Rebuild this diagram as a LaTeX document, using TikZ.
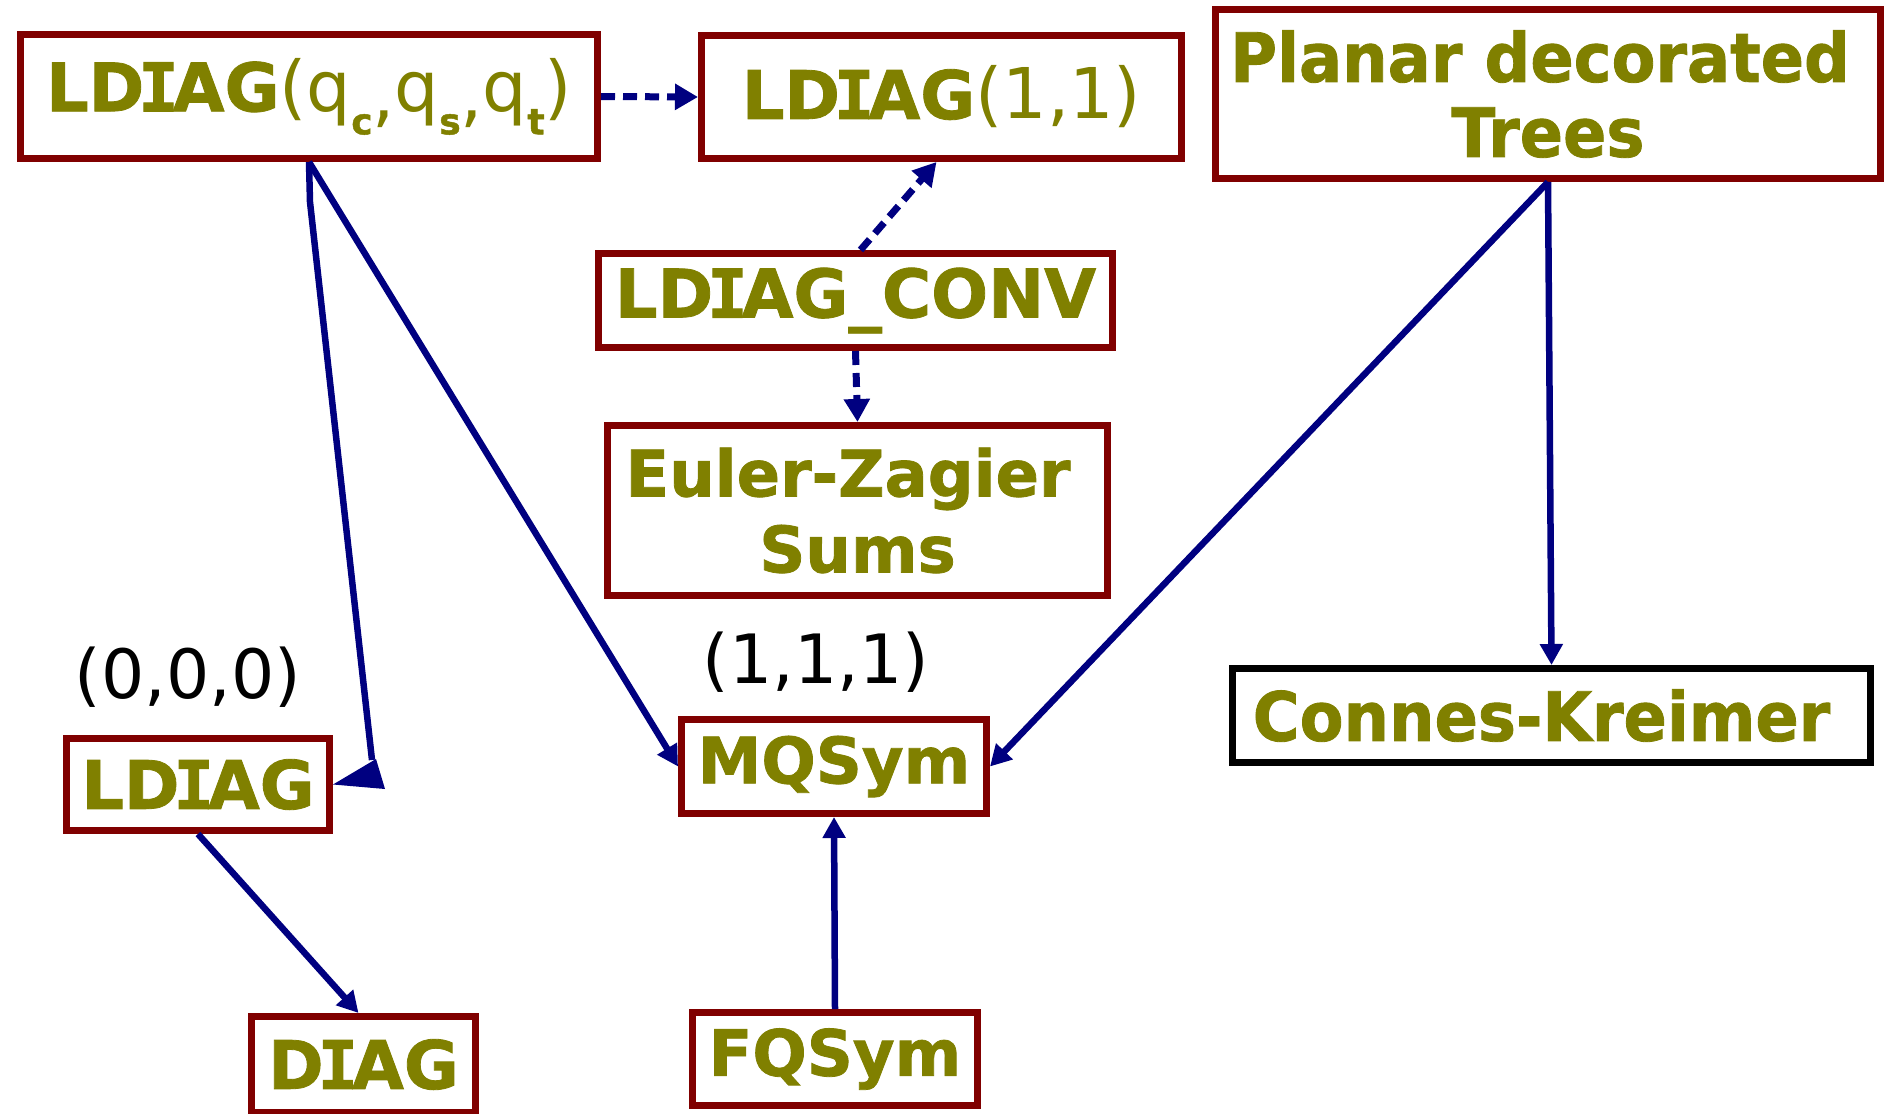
\documentclass[tikz,border=0pt]{standalone}
\usepackage{fontspec}
\setmainfont{DejaVu Sans}[BoldFeatures={FakeBold=1.2}]
\newfontfamily\condfont{DejaVu Sans}[FakeStretch=0.94,BoldFeatures={FakeBold=1.2}]
\newfontfamily\serfont{DejaVu Sans Mono}[BoldFeatures={FakeBold=1.6}]
\usetikzlibrary{arrows.meta}
\definecolor{olivetxt}{RGB}{128,128,0}
\definecolor{boxred}{RGB}{128,0,0}
\definecolor{navyarr}{RGB}{0,0,128}
\newcommand{\mysubs}[1]{\raisebox{-23pt}{\fontsize{36}{36}\selectfont\bfseries #1}}
\newcommand{\regpart}[1]{{\fontsize{70}{76}\selectfont\mdseries #1}}
\newcommand{\Iser}{\kern-6pt{\serfont I}\kern-6pt}
\newcommand{\lcomma}{\raisebox{-8pt}{,}}
\begin{document}
\begin{tikzpicture}[x=1pt,y=-1pt,
  box/.style={draw=boxred, line width=7pt, fill=white, inner sep=0pt, text=olivetxt,
    font=\fontsize{64}{76}\selectfont\bfseries, align=center},
  lbox/.style={box, font=\fontsize{67}{76}\selectfont\bfseries},
  cbox/.style={box, font=\fontsize{68}{75}\selectfont\condfont\bfseries},
  arr/.style={draw=navyarr, line width=6.5pt, -{Triangle[length=21pt,width=22pt]}},
  darr/.style={arr, line width=7pt, dash pattern=on 14pt off 8pt, -{Triangle[length=23pt,width=25pt]}},
  lab/.style={font=\fontsize{68}{76}\selectfont, text=black, inner sep=0pt}
]
\useasboundingbox (0,0) rectangle (1886,1113);

\node[lbox, minimum width=577pt, minimum height=124pt] (n1) at (309,96.5)
  {LD\Iser AG\regpart{(q\mysubs{c}\lcomma q\mysubs{s}\lcomma q\mysubs{t})}};
\node[lbox, minimum width=480pt, minimum height=123pt] (n2) at (941.5,97)
  {LD\Iser AG\regpart{(1,1)}};
\node[cbox, minimum width=665pt, minimum height=169pt] (n3) at (1548,94)
  {Planar decorated\kern16pt\\Trees};
\node[lbox, minimum width=514pt, minimum height=94pt] (n4) at (855.5,300.5)
  {LD\Iser AG\_CONV};
\node[box, minimum width=500pt, minimum height=170pt] (n5) at (857.5,510.5)
  {Euler-Zagier\kern19pt\\Sums};
\node[lbox, minimum width=263pt, minimum height=92pt] (n6) at (198,784.5)
  {LD\Iser AG};
\node[box, minimum width=305pt, minimum height=94pt] (n7) at (834,766.5)
  {MQSym};
\node[cbox, draw=black, minimum width=638pt, minimum height=94pt] (n8) at (1551.5,715.5)
  {Connes-Kreimer\kern20pt};
\node[lbox, minimum width=224pt, minimum height=96pt] (n9) at (363.5,1064.5)
  {D\Iser AG};
\node[box, minimum width=285pt, minimum height=93pt] (n10) at (835,1059)
  {FQSym};

\node[lab] (l1) at (188,677) {(0,0,0)};
\node[lab] (l2) at (816,662) {(1,1,1)};

\coordinate (bend) at (310,202);
\coordinate (dtip) at (372,760);

\draw[darr] (n1.east) -- (n2.west);
\draw[darr] ([xshift=5pt]n4.north) -- ([xshift=-5pt]n2.south);
\draw[darr] (n4.south) -- (n5.north);
\draw[draw=navyarr, line width=6.5pt] (n1.south) -- (bend) -- (dtip);
\fill[navyarr] (n6.east) -- (376,759) -- (385,789) -- cycle;
\draw[arr] (n1.south) -- (n7.west);
\draw[arr] (n3.south) -- (n7.east);
\draw[arr] (n3.south) -- (n8.north);
\draw[arr] (n10.north) -- (n7.south);
\draw[arr] (n6.south) -- ([xshift=-5pt]n9.north);
\end{tikzpicture}
\end{document}
